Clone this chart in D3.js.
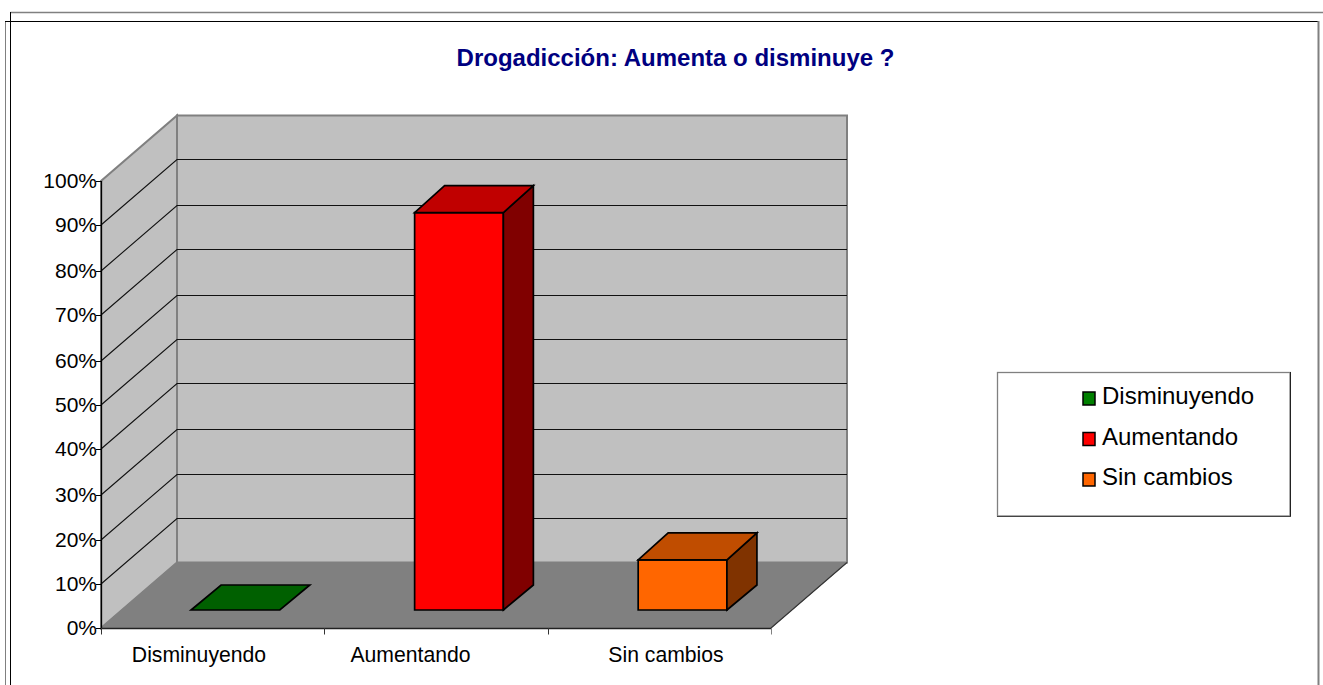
<!DOCTYPE html>
<html><head><meta charset="utf-8">
<script src="https://cdn.jsdelivr.net/npm/d3@7"></script>
<style>html,body{margin:0;padding:0;background:#fff}svg{display:block}text{font-family:"Liberation Sans",Arial,sans-serif;fill:#000}</style>
</head><body><svg id="c" width="1323" height="685"></svg>
<script>
const categories = ["Disminuyendo","Aumentando","Sin cambios"];
const values = [0,88.9,11.2];
const yTicks = [0,10,20,30,40,50,60,70,80,90,100];
const faceColors = ["#008000","#FF0000","#FF6600"];
const topColors = ["#006000","#C00000","#C04D00"];
const sideColors = ["#004000","#800000","#803300"];
const titleText = "Drogadicción: Aumenta o disminuye ?";

const svg = d3.select("#c");
const W=1323,H=685;
const x = d3.scaleBand().domain(categories).range([102,772]).paddingInner(0.603).paddingOuter(0.3);
const xTick = d3.scaleLinear().domain([0,3]).range([101,771]);
const xLabel = d3.scaleOrdinal().domain(categories).range([199,410.5,666]);
const y = d3.scaleLinear().domain([0,100]).range([628,181]);
// tick rows as drawn in the source (rounded unevenly)
const gridY = d3.scaleLinear().domain(yTicks).range([628,584,540,495,449,405,361,315,271,225,181]);
const DX=76, DY=-65.5;
const line=(x1,y1,x2,y2,c,w=1)=>svg.append("line").attr("x1",x1).attr("y1",y1).attr("x2",x2).attr("y2",y2).attr("stroke",c).attr("stroke-width",w);
const poly=(pts,f,s="#000",w=1.7)=>svg.append("polygon").attr("points",pts.map(p=>p.join(",")).join(" ")).attr("fill",f).attr("stroke",s).attr("stroke-width",w).attr("stroke-linejoin","miter");

// frames
line(10.5,12.5,W,12.5,"#808080",1.5);
line(5.5,21,5.5,H,"#808080",1);
line(10.5,12,10.5,H,"#000",1);
line(5,21.5,1319,21.5,"#000",1);
line(1318.5,21,1318.5,H,"#808080",2);

// walls
poly([[101,y(0)],[101,y(100)],[101+DX,y(100)+DY],[101+DX,y(0)+DY]],"#C0C0C0","#808080",2);
poly([[101+DX,y(0)+DY],[101+DX,y(100)+DY],[771+DX,y(100)+DY],[771+DX,y(0)+DY]],"#C0C0C0","#808080",2);
poly([[101,y(0)],[101+DX,y(0)+DY],[771+DX,y(0)+DY],[771,y(0)]],"#808080","#808080",1);

// gridlines
yTicks.filter(d=>d>0&&d<100).forEach(d=>{
  const yy=gridY(d);
  svg.append("polyline").attr("points",`101,${yy} ${101+DX},${yy+DY} ${771+DX},${yy+DY}`).attr("fill","none").attr("stroke","#111").attr("stroke-width",1.1);
});
// axes
line(101.5,y(100),101.5,y(0),"#000",1.3);
line(101,y(0)+0.5,771,y(0)+0.5,"#222",1.7);
line(771,y(0),771+DX,y(0)+DY,"#333",1.1);
yTicks.forEach(d=>line(96,gridY(d)+0.5,101,gridY(d)+0.5,"#000",1));
d3.range(4).forEach(i=>line(Math.round(xTick(i))+0.5,628,Math.round(xTick(i))+0.5,634.5,i==3?"#808080":"#333",1));

svg.selectAll(".yl").data(yTicks).join("text").attr("class","yl")
  .attr("x",97).attr("y",d=>gridY(d)+7).attr("text-anchor","end").attr("font-size",21).text(d=>d+"%");
svg.selectAll(".xl").data(categories).join("text").attr("class","xl")
  .attr("x",d=>xLabel(d)).attr("y",662).attr("text-anchor","middle").attr("font-size",21.2).text(d=>d);

// bars
const fdx=22, fdy=-18, bdx=30, baseDepth=-25, topDepth=-27;
categories.forEach((c,i)=>{
  const bx=x(c)+fdx, ex=bx+x.bandwidth();
  const by=y(0)+fdy, ty=y(values[i])+fdy;
  if(values[i]>0){
    poly([[bx,by],[ex,by],[ex,ty],[bx,ty]],faceColors[i]);
    poly([[ex,by],[ex+bdx,by+baseDepth],[ex+bdx,ty+topDepth],[ex,ty]],sideColors[i]);
  }
  const td=values[i]>0?topDepth:baseDepth;
  poly([[bx,ty],[ex,ty],[ex+bdx,ty+td],[bx+bdx,ty+td]],topColors[i]);
});

// title
svg.append("text").attr("x",675.5).attr("y",65.5).attr("text-anchor","middle").attr("font-size",24).attr("font-weight","bold").style("fill","#000080").text(titleText);

// legend
svg.append("rect").attr("x",997.5).attr("y",372.5).attr("width",292.5).attr("height",143.5).attr("fill","#fff").attr("stroke","#808080").attr("stroke-width",1.3);
line(1290.5,372,1290.5,517,"#222",1);
line(997,516.5,1291,516.5,"#444",1);
const legendY = d3.scalePoint().domain(categories).range([404,485]);
categories.forEach((c,i)=>{
  svg.append("rect").attr("x",1083).attr("y",legendY(c)-12).attr("width",12).attr("height",13).attr("fill",faceColors[i]).attr("stroke","#000").attr("stroke-width",1.5);
  svg.append("text").attr("x",1102).attr("y",legendY(c)).attr("font-size",24).text(c);
});
</script></body></html>
